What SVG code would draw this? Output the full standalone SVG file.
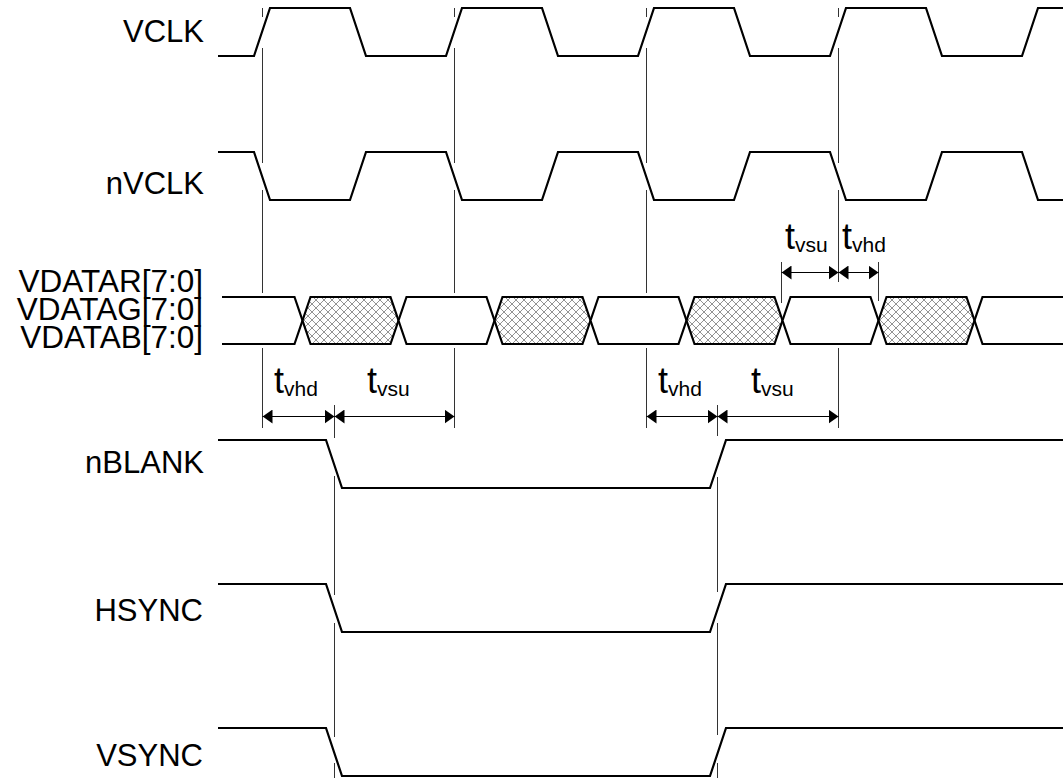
<svg xmlns="http://www.w3.org/2000/svg" width="1063" height="778" viewBox="0 0 1063 778">
<style>
.lbl{font-family:"Liberation Sans",Arial,sans-serif;font-size:31px;fill:#000;text-anchor:end}
.bl{font-family:"Liberation Sans",Arial,sans-serif;font-size:31.5px;fill:#000;text-anchor:end}
.t{font-family:"Liberation Sans",Arial,sans-serif;font-size:36px;fill:#000}
.sub{font-size:21px}
.wave{fill:none;stroke:#000;stroke-width:2.2;stroke-linejoin:miter}
.bus{stroke:#000;stroke-width:2.2;stroke-linejoin:miter}
.ref{stroke:#333;stroke-width:1;fill:none}
.dim{stroke:#000;stroke-width:1;fill:none;marker-start:url(#ah);marker-end:url(#ah)}
</style>
<defs>
<pattern id="hatch" patternUnits="userSpaceOnUse" width="8" height="8">
<rect width="8" height="8" fill="#fff"/>
<path d="M0 0L8 8M8 0L0 8M-1 7L1 9M7 -1L9 1M-1 1L1 -1M7 9L9 7" stroke="#777" stroke-width="0.8"/>
</pattern>
<marker id="ah" markerUnits="userSpaceOnUse" viewBox="0 0 10 14" markerWidth="10" markerHeight="14" refX="10" refY="7" orient="auto-start-reverse">
<path d="M0 0L10 7L0 14z" fill="#000"/>
</marker>
</defs>
<rect width="1063" height="778" fill="#fff"/>

<g id="connectors">
<path class="ref" d="M262.5 8V17M262.5 48V163M262.5 190V293M262.5 348V428"/>
<path class="ref" d="M454.5 8V17M454.5 48V163M454.5 190V293M454.5 348V428"/>
<path class="ref" d="M646.5 8V17M646.5 48V163M646.5 190V293M646.5 348V428"/>
<path class="ref" d="M838.5 8V17M838.5 48V163M838.5 190V282M838.5 348V428"/>
<path class="ref" d="M781.5 262V303M878.5 262V301"/>
<path class="ref" d="M334.5 405V438M334.5 476V595M334.5 623V737M334.5 763V778"/>
<path class="ref" d="M717.5 405V436M717.5 477V592M717.5 623V735M717.5 763V778"/>
<line class="dim" x1="262.5" y1="416.5" x2="334.5" y2="416.5"/>
<line class="dim" x1="334.5" y1="416.5" x2="454.5" y2="416.5"/>
<line class="dim" x1="646.5" y1="416.5" x2="717.5" y2="416.5"/>
<line class="dim" x1="717.5" y1="416.5" x2="838.5" y2="416.5"/>
<line class="dim" x1="781.5" y1="272.5" x2="838.5" y2="272.5"/>
<line class="dim" x1="838.5" y1="272.5" x2="878.5" y2="272.5"/>
</g>

<g id="timing-labels">
<text class="t" x="274" y="393">t<tspan class="sub" dy="3">vhd</tspan></text>
<text class="t" x="367" y="393">t<tspan class="sub" dy="3">vsu</tspan></text>
<text class="t" x="658" y="393">t<tspan class="sub" dy="3">vhd</tspan></text>
<text class="t" x="751" y="393">t<tspan class="sub" dy="3">vsu</tspan></text>
<text class="t" x="785" y="249">t<tspan class="sub" dy="3">vsu</tspan></text>
<text class="t" x="842" y="249">t<tspan class="sub" dy="3">vhd</tspan></text>
</g>

<g id="VCLK">
<text class="lbl" x="204" y="42">VCLK</text>
<path class="wave" d="M218 56H254L270 8H350L366 56H446L462 8H542L558 56H638L654 8H734L750 56H830L846 8H926L942 56H1022L1038 8H1063"/>
</g>

<g id="nVCLK">
<text class="lbl" x="204" y="194">nVCLK</text>
<path class="wave" d="M218 152H254L270 200H350L366 152H446L462 200H542L558 152H638L654 200H734L750 152H830L846 200H926L942 152H1022L1038 200H1063"/>
</g>

<g id="VDATA">
<text class="bl" x="203" y="292">VDATAR[7:0]</text>
<text class="bl" x="203" y="320">VDATAG[7:0]</text>
<text class="bl" x="203" y="348">VDATAB[7:0]</text>
<path class="bus" fill="none" d="M222 297H294.5L302.5 320.5L294.5 344H222"/>
<path class="bus" fill="url(#hatch)" d="M302.5 320.5L310.5 297H390.5L398.5 320.5L390.5 344H310.5Z"/>
<path class="bus" fill="#fff" d="M398.5 320.5L406.5 297H486.5L494.5 320.5L486.5 344H406.5Z"/>
<path class="bus" fill="url(#hatch)" d="M494.5 320.5L502.5 297H582.5L590.5 320.5L582.5 344H502.5Z"/>
<path class="bus" fill="#fff" d="M590.5 320.5L598.5 297H678.5L686.5 320.5L678.5 344H598.5Z"/>
<path class="bus" fill="url(#hatch)" d="M686.5 320.5L694.5 297H774.5L782.5 320.5L774.5 344H694.5Z"/>
<path class="bus" fill="#fff" d="M782.5 320.5L790.5 297H870.5L878.5 320.5L870.5 344H790.5Z"/>
<path class="bus" fill="url(#hatch)" d="M878.5 320.5L886.5 297H966.5L974.5 320.5L966.5 344H886.5Z"/>
<path class="bus" fill="none" d="M1063 297H982.5L974.5 320.5L982.5 344H1063"/>
</g>

<g id="nBLANK">
<text class="lbl" x="204" y="473">nBLANK</text>
<path class="wave" d="M218 440H326L342 488H710L726 440H1063"/>
</g>

<g id="HSYNC">
<text class="lbl" x="203" y="621">HSYNC</text>
<path class="wave" d="M218 584H326L342 632H710L726 584H1063"/>
</g>

<g id="VSYNC">
<text class="lbl" x="203" y="766">VSYNC</text>
<path class="wave" d="M218 728H326L342 776H710L726 728H1063"/>
</g>
</svg>
